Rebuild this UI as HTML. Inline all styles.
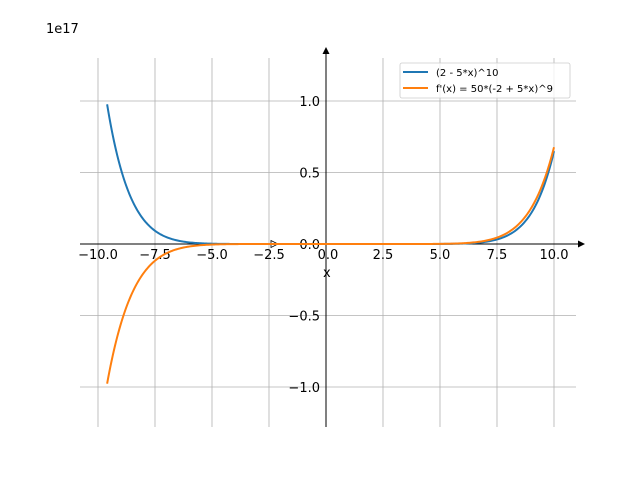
<!DOCTYPE html>
<html><head><meta charset="utf-8"><style>html,body{margin:0;padding:0;background:#fff}svg{display:block}</style></head>
<body>
<svg id="s" width="640" height="480" xmlns="http://www.w3.org/2000/svg" font-family="DejaVu Sans, Liberation Sans, sans-serif" font-size="12">
<g stroke="#b0b0b0" stroke-width="0.8" id="grid"></g>
<line x1="80" y1="244" x2="580" y2="244" stroke="#000" stroke-width="1"/>
<path d="M585,244 L578,240.5 L578,247.5 Z" fill="#000"/>
<path d="M278,244 L271,240.5 L271,247.5 Z" fill="none" stroke="#000" stroke-width="0.8"/>
<line x1="326" y1="427" x2="326" y2="52" stroke="#000" stroke-width="1"/>
<path d="M326,47 L322.5,54 L329.5,54 Z" fill="#000"/>
<g id="lab" fill="#000"></g>
<text x="46" y="33" fill="#000" font-size="13">1e17</text>
<text x="323" y="277" fill="#000" font-size="13">x</text>
<path id="b" fill="none" stroke="#1f77b4" stroke-width="2"/>
<path id="o" fill="none" stroke="#ff7f0e" stroke-width="2"/>
<rect x="400" y="63" width="170" height="35" rx="2" fill="#fff" fill-opacity="0.8" stroke="#ccc" stroke-width="0.8"/>
<line x1="403" y1="72" x2="428" y2="72" stroke="#1f77b4" stroke-width="2"/>
<line x1="403" y1="88" x2="428" y2="88" stroke="#ff7f0e" stroke-width="2"/>
<text x="436" y="76" font-size="10" fill="#000">(2 - 5*x)^10</text>
<text x="436" y="92" font-size="10" fill="#000">f'(x) = 50*(-2 + 5*x)^9</text>
</svg>
<script>
var ns="http://www.w3.org/2000/svg";
function X(x){return 326+x*22.8}function Y(y){return 244-y*143}
var g=document.getElementById('grid'),L=document.getElementById('lab');
function el(p,t,a,txt){var e=document.createElementNS(ns,t);for(var k in a)e.setAttribute(k,a[k]);if(txt)e.textContent=txt;p.appendChild(e);return e;}
var xs=[-10,-7.5,-5,-2.5,0,2.5,5,7.5,10];
xs.forEach(function(v){var px=X(v);el(g,'line',{x1:px,x2:px,y1:58,y2:427});
el(L,'text',{x:px+(v==0?2:0),y:259,'text-anchor':'middle','font-size':13},(v<0?'\u2212':'')+Math.abs(v).toFixed(1));});
[1,0.5,0,-0.5,-1].forEach(function(v){var py=Y(v);el(g,'line',{x1:80,x2:576,y1:py,y2:py});
el(L,'text',{x:320,y:py+5,'text-anchor':'end','font-size':13},(v<0?'\u2212':'')+Math.abs(v).toFixed(1));});
var b='',o='';
for(var i=0;i<=400;i++){var x=-9.6+19.6*i/400;var f=Math.pow(2-5*x,10)/1e17,d=50*Math.pow(-2+5*x,9)/1e17;
b+=(i?'L':'M')+X(x).toFixed(2)+','+Y(f).toFixed(2);o+=(i?'L':'M')+X(x).toFixed(2)+','+Y(d).toFixed(2);}
document.getElementById('b').setAttribute('d',b);document.getElementById('o').setAttribute('d',o);
</script>
</body></html>
